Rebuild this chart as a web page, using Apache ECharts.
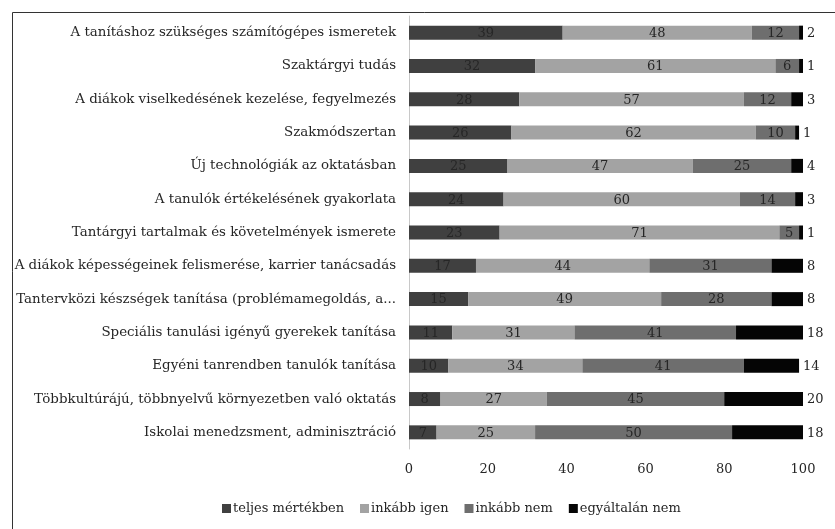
<!DOCTYPE html>
<html><head><meta charset="utf-8">
<script src="https://cdn.jsdelivr.net/npm/echarts@6/dist/echarts.min.js"></script>
<style>html,body{margin:0;padding:0;background:#fff}#c{width:835px;height:529px}</style>
</head><body><div id="c"></div>
<script>
const categories = [
  "A tanításhoz szükséges számítógépes ismeretek",
  "Szaktárgyi tudás",
  "A diákok viselkedésének kezelése, fegyelmezés",
  "Szakmódszertan",
  "Új technológiák az oktatásban",
  "A tanulók értékelésének gyakorlata",
  "Tantárgyi tartalmak és követelmények ismerete",
  "A diákok képességeinek felismerése, karrier tanácsadás",
  "Tantervközi készségek tanítása (problémamegoldás, a...",
  "Speciális tanulási igényű gyerekek tanítása",
  "Egyéni tanrendben tanulók tanítása",
  "Többkultúrájú, többnyelvű környezetben való oktatás",
  "Iskolai menedzsment, adminisztráció"
];
const seriesNames = ["teljes mértékben", "inkább igen", "inkább nem", "egyáltalán nem"];
const teljes = [39, 32, 28, 26, 25, 24, 23, 17, 15, 11, 10, 8, 7];
const inkabbIgen = [48, 61, 57, 62, 47, 60, 71, 44, 49, 31, 34, 27, 25];
const inkabbNem = [12, 6, 12, 10, 25, 14, 5, 31, 28, 41, 41, 45, 50];
const egyaltalan = [2, 1, 3, 1, 4, 3, 1, 8, 8, 18, 14, 20, 18];
const xTicks = [0, 20, 40, 60, 80, 100];

const values = [teljes, inkabbIgen, inkabbNem, egyaltalan];
const colors = ["#404040", "#a3a3a3", "#6e6e6e", "#050505"];
const font = "'DejaVu Serif', serif";
const fs = 13;

const series = seriesNames.map((name, i) => ({
  name: name,
  type: 'bar',
  stack: 'total',
  barWidth: 14,
  data: values[i],
  itemStyle: { color: colors[i] },
  label: {
    show: true,
    position: i === 3 ? 'right' : 'inside',
    distance: 4,
    offset: [0, 1],
    color: '#262626',
    fontFamily: font,
    fontSize: fs
  }
}));

const chart = echarts.init(document.getElementById('c'), null, { renderer: 'canvas' });
chart.setOption({
  animation: false,
  backgroundColor: '#fff',
  graphic: [{
    type: 'rect', left: 10, top: 10, silent: true,
    shape: { width: 840, height: 540 },
    style: { fill: 'none', stroke: '#333', lineWidth: 1 }
  }],
  grid: { left: 409, right: 32, top: 16, bottom: 80, containLabel: false },
  legend: {
    bottom: 9,
    left: 217,
    itemWidth: 9, itemHeight: 9, itemGap: 16,
    icon: 'rect',
    textStyle: { fontFamily: font, fontSize: fs, color: '#262626', padding: [0, 0, 0, -3] },
    data: seriesNames
  },
  xAxis: {
    type: 'value', min: 0, max: 100, interval: 20,
    axisLine: { show: false }, axisTick: { show: false },
    splitLine: { show: false },
    axisLabel: { fontFamily: font, fontSize: fs, color: '#262626', margin: 14,
      formatter: v => xTicks.includes(v) ? String(v) : '' }
  },
  yAxis: {
    type: 'category', data: categories, inverse: true,
    axisLine: { show: true, lineStyle: { color: '#c8c8c8' } },
    axisTick: { show: false },
    axisLabel: { fontFamily: font, fontSize: 13.4, color: '#262626', margin: 13 }
  },
  series: series
});
</script></body></html>
